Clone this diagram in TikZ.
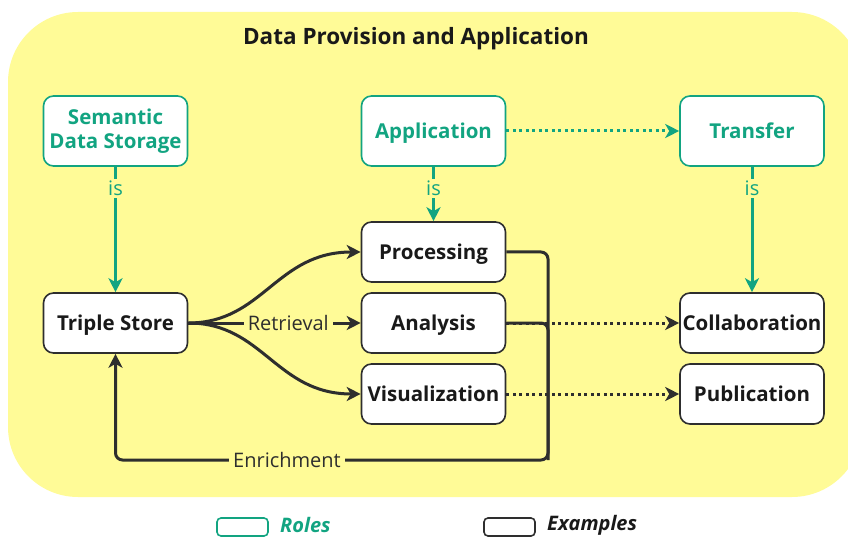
\documentclass[tikz,border=0pt]{standalone}
\usepackage{fontspec}
\setmainfont{Open Sans}
\usetikzlibrary{arrows.meta}

\definecolor{rolegreen}{HTML}{12A481}
\definecolor{bgyellow}{HTML}{FFFB97}
\definecolor{inkgray}{HTML}{2E2E2E}

\tikzset{
    boxfont/.style={font=\bfseries\fontsize{20.5bp}{24bp}\selectfont},
    role/.style={rectangle, rounded corners=10bp, draw=rolegreen, line width=1.6bp, fill=white, text=rolegreen, boxfont, align=center, inner sep=0pt, minimum width=144bp, minimum height=70bp},
    example/.style={rectangle, rounded corners=10bp, draw=inkgray, line width=1.6bp, fill=white, text=black!90, boxfont, align=center, inner sep=0pt, minimum width=144bp, minimum height=60bp},
    oneline/.style={text height=14.8bp, text depth=0bp},
    tip/.style={-{Stealth[length=14bp, width=14bp, inset=4bp]}},
    isarrow/.style={draw=rolegreen, line width=3bp, tip},
    dotgreen/.style={draw=rolegreen, line width=3bp, dash pattern=on 3bp off 3.5bp, tip},
    flow/.style={draw=inkgray, line width=3bp, tip},
    dotflow/.style={draw=inkgray, line width=3bp, dash pattern=on 3bp off 3.5bp, tip},
    edgelabel/.style={fill=bgyellow, inner xsep=4bp, inner ysep=2bp, font=\fontsize{20bp}{24bp}\selectfont},
    keybox/.style={rectangle, rounded corners=4bp, line width=1.6bp, minimum width=51bp, minimum height=18bp, inner sep=0pt},
    keytext/.style={anchor=west, inner sep=0pt, font=\bfseries\itshape\fontsize{20bp}{24bp}\selectfont},
}

\begin{document}
\begin{tikzpicture}[x=1bp, y=-1bp]
\useasboundingbox (0,0) rectangle (848,538);
\fill[bgyellow, rounded corners=70bp] (8,12) rectangle (862,497);

\node[font=\bfseries\fontsize{22.5bp}{26bp}\selectfont, text=black!90] (title) at (416,39) {Data Provision and Application};

% roles
\node[role] (storage) at (115.5,131) {Semantic\\Data Storage};
\node[role, oneline] (application) at (433.5,131) {Application};
\node[role, oneline] (transfer) at (752,131) {Transfer};

% examples
\node[example, oneline] (triple) at (115.5,323) {Triple Store};
\node[example, oneline] (processing) at (433.5,252) {Processing};
\node[example, oneline] (analysis) at (433.5,323) {Analysis};
\node[example, oneline] (visual) at (433.5,394) {Visualization};
\node[example, oneline] (collab) at (752,323) {Collaboration};
\node[example, oneline] (publication) at (752,394) {Publication};

% is-relations
\draw[isarrow] (storage) -- node[edgelabel, text=rolegreen, pos=0.17] {is} (triple);
\draw[isarrow] (application) -- node[edgelabel, text=rolegreen, pos=0.4] {is} (processing);
\draw[isarrow] (transfer) -- node[edgelabel, text=rolegreen, pos=0.17] {is} (collab);
\draw[dotgreen] (application) -- (transfer);

% retrieval
\draw[flow] (triple.east) -- node[edgelabel, text=inkgray, pos=0.58] {Retrieval} (analysis.west);
\draw[flow] (triple.east) .. controls +(75,0) and +(-85,0) .. (processing.west);
\draw[flow] (triple.east) .. controls +(75,0) and +(-85,0) .. (visual.west);

% enrichment
\coordinate (turn) at (548,460);
\draw[inkgray, line width=3bp, rounded corners=7bp] (analysis.east) -| (turn);
\draw[flow, rounded corners=7bp] (processing.east) -| (turn) -| (triple.south);
\node[edgelabel, text=inkgray] (enrich) at (287,460) {Enrichment};

% transfer examples
\draw[dotflow] (analysis.east) -- (collab.west);
\draw[dotflow] (visual.east) -- (publication.west);

% legend
\node[keybox, draw=rolegreen] (rolekey) at (242.5,527) {};
\node[keytext, text=rolegreen] (roletext) at (280,525) {Roles};
\node[keybox, draw=inkgray] (examplekey) at (509.5,527) {};
\node[keytext, text=black!90] (exampletext) at (547,525) {Examples};
\end{tikzpicture}
\end{document}
